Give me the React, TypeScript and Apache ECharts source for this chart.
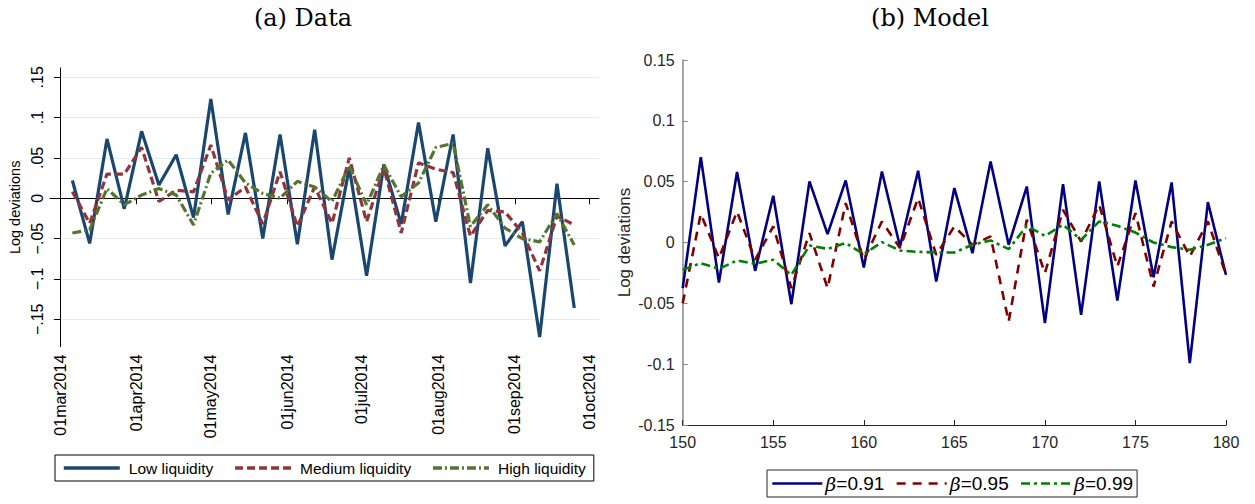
import React, { useEffect, useRef } from 'react';
import * as echarts from 'echarts';

// ---------- Panel (a): Data ----------
const dataDates = [
  '2014-03-06', '2014-03-13', '2014-03-20', '2014-03-27',
  '2014-04-03', '2014-04-10', '2014-04-17', '2014-04-24',
  '2014-05-01', '2014-05-08', '2014-05-15', '2014-05-22', '2014-05-29',
  '2014-06-05', '2014-06-12', '2014-06-19', '2014-06-26',
  '2014-07-03', '2014-07-10', '2014-07-17', '2014-07-24', '2014-07-31',
  '2014-08-07', '2014-08-14', '2014-08-21', '2014-08-28',
  '2014-09-04', '2014-09-11', '2014-09-18', '2014-09-25',
];
const lowLiquidity = [
  0.022, -0.056, 0.0735, -0.013, 0.083, 0.0165, 0.054, -0.024, 0.123, -0.020,
  0.081, -0.050, 0.079, -0.057, 0.085, -0.076, 0.038, -0.096, 0.042, -0.032,
  0.094, -0.029, 0.079, -0.105, 0.062, -0.059, -0.029, -0.172, 0.018, -0.136,
];
const mediumLiquidity = [
  0.008, -0.031, 0.030, 0.030, 0.063, -0.004, 0.010, 0.008, 0.066, -0.002,
  0.014, -0.032, 0.033, -0.035, 0.014, -0.031, 0.050, -0.029, 0.037, -0.043,
  0.044, 0.036, 0.032, -0.047, -0.015, -0.017, -0.043, -0.090, -0.022, -0.033,
];
const highLiquidity = [
  -0.043, -0.039, 0.012, -0.008, 0.004, 0.012, 0.004, -0.033, 0.031, 0.0475,
  0.019, 0.006, 0.000, 0.021, 0.014, -0.004, 0.040, -0.008, 0.041, 0.002,
  0.019, 0.063, 0.068, -0.035, -0.008, -0.037, -0.050, -0.054, -0.019, -0.058,
];
const monthTickDates = [
  '2014-03-01', '2014-04-01', '2014-05-01', '2014-06-01',
  '2014-07-01', '2014-08-01', '2014-09-01', '2014-10-01',
];
const monthTickLabels = [
  '01mar2014', '01apr2014', '01may2014', '01jun2014',
  '01jul2014', '01aug2014', '01sep2014', '01oct2014',
];
const leftYTicks = [-0.15, -0.1, -0.05, 0, 0.05, 0.1, 0.15];
const leftYTickLabels = ['\u2212.15', '\u2212.1', '\u2212.05', '0', '.05', '.1', '.15'];

// ---------- Panel (b): Model ----------
const modelPeriods = [
  150, 151, 152, 153, 154, 155, 156, 157, 158, 159, 160, 161, 162, 163, 164, 165,
  166, 167, 168, 169, 170, 171, 172, 173, 174, 175, 176, 177, 178, 179, 180,
];
const beta091 = [
  -0.0375, 0.0702, -0.0329, 0.0579, -0.0233, 0.0384, -0.0507, 0.0502, 0.0069, 0.051,
  -0.0206, 0.0584, -0.0033, 0.059, -0.032, 0.0447, -0.0088, 0.0666, -0.0019, 0.046,
  -0.0663, 0.048, -0.0595, 0.0502, -0.0477, 0.051, -0.0285, 0.0494, -0.0992, 0.0332,
  -0.0266,
];
const beta095 = [
  -0.0499, 0.0236, -0.0129, 0.0255, -0.0142, 0.0132, -0.0375, 0.0077, -0.0375, 0.0324,
  -0.0142, 0.0173, -0.0046, 0.0365, -0.0101, 0.0132, -0.0019, 0.005, -0.065, 0.0187,
  -0.0252, 0.0269, 0.0008, 0.031, -0.0197, 0.0242, -0.0362, 0.0173, -0.0115, 0.0173,
  -0.0266,
];
const beta099 = [
  -0.0225, -0.017, -0.0216, -0.0148, -0.0175, -0.0142, -0.0266, -0.0025, -0.0052, -0.0005,
  -0.0096, 0.0003, -0.0066, -0.0077, -0.0082, -0.0082, -0.0019, 0.0017, -0.0055, 0.0137,
  0.0055, 0.0145, 0.0022, 0.0173, 0.0137, 0.0082, 0.0, -0.0038, -0.006, -0.0019,
  0.0036,
];
const seriesNamesLeft = ['Low liquidity', 'Medium liquidity', 'High liquidity'];
const seriesNamesRight = ['\u03b2=0.91', '\u03b2=0.95', '\u03b2=0.99'];

const DAY = 86400000;
const ORIGIN = Date.UTC(2014, 2, 1);
const toDay = (s: string) => {
  const [y, m, d] = s.split('-').map(Number);
  return (Date.UTC(y, m - 1, d) - ORIGIN) / DAY;
};

export default function App() {
  const ref = useRef<HTMLDivElement>(null);
  useEffect(() => {
    document.body.style.margin = '0';
    const chart = echarts.init(ref.current!, null, { renderer: 'svg' });
    const days = dataDates.map(toDay);
    const tickDays = monthTickDates.map(toDay);
    const pair = (xs: number[], ys: number[]) => xs.map((x, i) => [x, ys[i]]);
    const sans = 'Liberation Sans, Arial, sans-serif';
    const serif = 'DejaVu Serif, serif';
    const hiddenSymbol = { color: 'rgba(0,0,0,0)', borderWidth: 0, opacity: 0 };

    const option: any = {
      animation: false,
      backgroundColor: '#ffffff',
      graphic: [
        { type: 'text', x: 303, y: 18, style: { text: '(a) Data', font: `24px ${serif}`, fill: '#000', textAlign: 'center', textVerticalAlign: 'middle' } },
        { type: 'text', x: 930, y: 18, style: { text: '(b) Model', font: `24px ${serif}`, fill: '#000', textAlign: 'center', textVerticalAlign: 'middle' } },
      ],
      grid: [
        { left: 50, top: 68, width: 549, height: 278.7, containLabel: false },
        { left: 682.7, top: 60, width: 543.3, height: 365, containLabel: false },
      ],
      xAxis: [
        {
          gridIndex: 0,
          type: 'value',
          min: -4.05,
          max: 218,
          axisLine: { show: true, lineStyle: { color: '#000', width: 1 } },
          axisTick: { show: true, length: 6, lineStyle: { color: '#000' }, customValues: tickDays },
          axisLabel: {
            customValues: tickDays,
            rotate: 90,
            margin: 8,
            fontSize: 16,
            fontFamily: sans,
            color: '#000',
            formatter: (v: number) => {
              const i = tickDays.findIndex((t) => Math.abs(t - v) < 0.5);
              return i >= 0 ? monthTickLabels[i] : '';
            },
          },
          splitLine: { show: false },
        },
        {
          gridIndex: 1,
          type: 'value',
          min: 150,
          max: 180,
          interval: 5,
          axisLine: { show: true, onZero: false, lineStyle: { color: '#262626', width: 1 } },
          axisTick: { show: true, inside: true, length: 5, lineStyle: { color: '#262626' } },
          axisLabel: { margin: 9, fontSize: 16, fontFamily: sans, color: '#262626' },
          splitLine: { show: false },
        },
      ],
      yAxis: [
        {
          gridIndex: 0,
          type: 'value',
          min: -0.184,
          max: 0.1615,
          name: 'Log deviations',
          nameLocation: 'middle',
          nameGap: 28,
          nameTextStyle: { fontSize: 14.5, fontFamily: sans, color: '#000' },
          axisLine: { show: true, lineStyle: { color: '#000', width: 1 } },
          axisTick: { show: true, length: 6, lineStyle: { color: '#000' }, customValues: leftYTicks },
          axisLabel: {
            customValues: leftYTicks,
            rotate: 90,
            margin: 5,
            fontSize: 16,
            fontFamily: sans,
            color: '#000',
            formatter: (v: number) => {
              const i = leftYTicks.findIndex((t) => Math.abs(t - v) < 0.001);
              return i >= 0 ? leftYTickLabels[i] : '';
            },
          },
          splitLine: { show: true, lineStyle: { color: '#e2eced', width: 1.2 } },
        },
        {
          gridIndex: 1,
          type: 'value',
          min: -0.15,
          max: 0.15,
          interval: 0.05,
          name: 'Log deviations',
          nameLocation: 'middle',
          nameGap: 50,
          nameTextStyle: { fontSize: 17, fontFamily: sans, color: '#262626' },
          axisLine: { show: true, onZero: false, lineStyle: { color: '#8a8a8a', width: 1.5 } },
          axisTick: { show: true, inside: true, length: 5, lineStyle: { color: '#8a8a8a' } },
          axisLabel: { margin: 8, fontSize: 16, fontFamily: sans, color: '#262626' },
          splitLine: { show: false },
        },
      ],
      legend: [
        {
          data: seriesNamesLeft,
          left: 55,
          top: 455,
          orient: 'horizontal',
          borderColor: '#000',
          borderWidth: 1,
          borderRadius: 0,
          padding: [5, 8, 5, 7],
          itemWidth: 56,
          itemHeight: 14,
          itemGap: 20,
          itemStyle: hiddenSymbol,
          lineStyle: { width: 3.6 },
          textStyle: { fontSize: 15.5, fontFamily: sans, color: '#000', padding: [0, 0, 0, 4] },
        },
        {
          data: seriesNamesRight,
          left: 767,
          top: 470,
          orient: 'horizontal',
          borderColor: '#262626',
          borderWidth: 1,
          borderRadius: 0,
          padding: [4, 4, 4, 4],
          itemWidth: 50,
          itemHeight: 14,
          itemGap: 11,
          itemStyle: hiddenSymbol,
          lineStyle: { width: 2.6 },
          formatter: (name: string) => `{b|\u03b2}{t|${name.slice(1)}}`,
          textStyle: {
            fontSize: 19,
            fontFamily: sans,
            color: '#000',
            padding: [0, 0, 0, -2],
            rich: {
              b: { fontSize: 19, fontStyle: 'italic', fontFamily: 'DejaVu Serif, serif', color: '#000' },
              t: { fontSize: 19, fontFamily: sans, color: '#000' },
            },
          },
        },
      ],
      series: [
        {
          name: seriesNamesLeft[0], type: 'line', xAxisIndex: 0, yAxisIndex: 0,
          data: pair(days, lowLiquidity), symbol: 'none',
          lineStyle: { color: '#1a476f', width: 3.2 }, itemStyle: { color: '#1a476f' },
        },
        {
          name: seriesNamesLeft[1], type: 'line', xAxisIndex: 0, yAxisIndex: 0,
          data: pair(days, mediumLiquidity), symbol: 'none',
          lineStyle: { color: '#90353b', width: 3.2, type: [8, 4] }, itemStyle: { color: '#90353b' },
        },
        {
          name: seriesNamesLeft[2], type: 'line', xAxisIndex: 0, yAxisIndex: 0,
          data: pair(days, highLiquidity), symbol: 'none',
          lineStyle: { color: '#55752f', width: 3.2, type: [9, 3, 2, 3] }, itemStyle: { color: '#55752f' },
        },
        {
          name: seriesNamesRight[0], type: 'line', xAxisIndex: 1, yAxisIndex: 1,
          data: pair(modelPeriods, beta091), symbol: 'none',
          lineStyle: { color: '#000080', width: 2.6 }, itemStyle: { color: '#000080' },
        },
        {
          name: seriesNamesRight[1], type: 'line', xAxisIndex: 1, yAxisIndex: 1,
          data: pair(modelPeriods, beta095), symbol: 'none',
          lineStyle: { color: '#800000', width: 2.6, type: [9, 7] }, itemStyle: { color: '#800000' },
        },
        {
          name: seriesNamesRight[2], type: 'line', xAxisIndex: 1, yAxisIndex: 1,
          data: pair(modelPeriods, beta099), symbol: 'none',
          lineStyle: { color: '#008000', width: 2.6, type: [9, 4, 3, 4] }, itemStyle: { color: '#008000' },
        },
      ],
    };
    chart.setOption(option);
    return () => chart.dispose();
  }, []);
  return <div ref={ref} style={{ width: 1255, height: 504 }} />;
}
